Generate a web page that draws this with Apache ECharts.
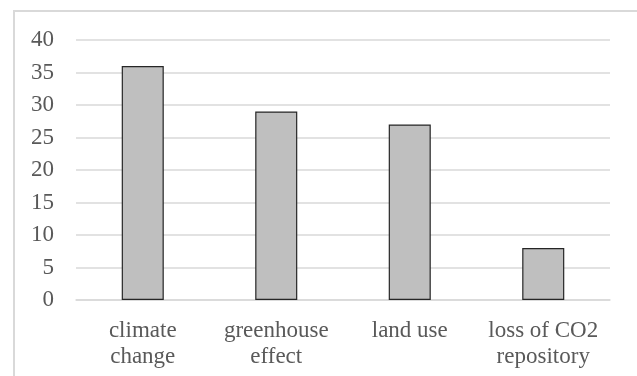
<!DOCTYPE html>
<html>
<head>
<meta charset="utf-8">
<script src="https://cdn.jsdelivr.net/npm/echarts@6/dist/echarts.min.js"></script>
<style>
html,body{margin:0;padding:0;background:#fff;}
#chart{width:637px;height:376px;}
</style>
</head>
<body>
<div id="chart"></div>
<script>
var categories = ['climate\nchange', 'greenhouse\neffect', 'land use', 'loss of CO2\nrepository'];
var values = [36, 29, 27, 8];
var yTicks = [0, 5, 10, 15, 20, 25, 30, 35, 40];

var LABEL_FONT = '23px "Liberation Serif"';
var LABEL_COLOR = '#595959';
var chart = echarts.init(document.getElementById('chart'));
chart.setOption({
  backgroundColor: '#fff',
  animation: false,
  grid: {left: 76, right: 27, top: 40, bottom: 76},
  xAxis: {
    type: 'category',
    data: categories,
    axisTick: {show: false},
    axisLine: {show: true, lineStyle: {color: '#d9d9d9', width: 1.5}},
    axisLabel: {show: false}
  },
  yAxis: {
    type: 'value',
    min: yTicks[0],
    max: yTicks[yTicks.length - 1],
    interval: 5,
    axisLine: {show: false},
    axisTick: {show: false},
    splitLine: {lineStyle: {color: '#d9d9d9', width: 1.5}},
    axisLabel: {show: false}
  },
  series: [{
    type: 'bar',
    data: values,
    barWidth: '31.5%',
    itemStyle: {color: '#bfbfbf', borderColor: '#262626', borderWidth: 1.2}
  }]
});

// Axis labels drawn as text through the chart's own scales (serif font via font shorthand)
var graphics = [{
  type: 'rect',
  shape: {x: 14, y: 11, width: 700, height: 500},
  style: {fill: 'none', stroke: '#d9d9d9', lineWidth: 2},
  silent: true
}];
var axisY = chart.convertToPixel({yAxisIndex: 0}, yTicks[0]);
var step = chart.convertToPixel({xAxisIndex: 0}, 1) - chart.convertToPixel({xAxisIndex: 0}, 0);
var axisX = chart.convertToPixel({xAxisIndex: 0}, 0) - step / 2;
categories.forEach(function (c, i) {
  graphics.push({
    type: 'text',
    x: chart.convertToPixel({xAxisIndex: 0}, i),
    y: axisY + 18,
    silent: true,
    style: {text: c, font: LABEL_FONT, fill: LABEL_COLOR, align: 'center', verticalAlign: 'top', lineHeight: 26}
  });
});
yTicks.forEach(function (t) {
  graphics.push({
    type: 'text',
    x: axisX - 22,
    y: chart.convertToPixel({yAxisIndex: 0}, t),
    silent: true,
    style: {text: String(t), font: LABEL_FONT, fill: LABEL_COLOR, align: 'right', verticalAlign: 'middle'}
  });
});
chart.setOption({graphic: graphics});
</script>
</body>
</html>
